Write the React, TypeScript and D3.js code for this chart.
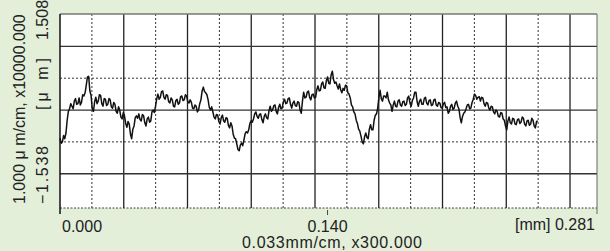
import React from 'react';
import * as d3 from 'd3';

// profile heights in μm, sampled every 0.000625 mm from 0.000 mm
const profileStepMm = 0.000625;
const profileUm = [
  -0.44, -0.52, -0.50, -0.40, -0.45, -0.36, -0.16, -0.02, 0.02, 0.10,
  0.06, 0.02, 0.14, 0.18, 0.09, 0.10, 0.19, 0.08, 0.12, 0.24,
  0.22, 0.27, 0.39, 0.52, 0.53, 0.30, 0.23, 0.02, -0.02, 0.13,
  0.20, 0.10, 0.14, 0.24, 0.23, 0.10, 0.06, 0.18, 0.17, 0.07,
  0.09, 0.18, 0.16, 0.05, 0.03, 0.12, 0.09, -0.02, -0.05, 0.05,
  0.00, -0.11, -0.14, -0.04, -0.09, -0.21, -0.27, -0.18, -0.22, -0.38,
  -0.45, -0.30, -0.25, -0.12, -0.09, -0.13, -0.06, -0.15, -0.17, -0.07,
  -0.09, -0.20, -0.25, -0.14, -0.11, -0.19, -0.17, -0.03, 0.00, -0.04,
  0.06, 0.18, 0.25, 0.17, 0.20, 0.29, 0.30, 0.20, 0.17, 0.24,
  0.23, 0.13, 0.11, 0.19, 0.16, 0.06, 0.05, 0.15, 0.17, 0.09,
  0.11, 0.21, 0.22, 0.15, 0.16, 0.24, 0.22, 0.13, 0.11, 0.16,
  0.12, 0.03, 0.02, 0.08, 0.06, -0.03, 0.00, 0.10, 0.16, 0.30,
  0.36, 0.29, 0.27, 0.24, 0.16, 0.04, 0.00, 0.05, -0.03, -0.11,
  -0.14, -0.07, -0.08, -0.18, -0.22, -0.12, -0.08, -0.17, -0.19, -0.12,
  -0.13, -0.24, -0.28, -0.20, -0.25, -0.38, -0.44, -0.45, -0.53, -0.62,
  -0.64, -0.55, -0.52, -0.56, -0.47, -0.37, -0.34, -0.36, -0.31, -0.21,
  -0.17, -0.19, -0.14, -0.06, -0.03, -0.10, -0.13, -0.07, -0.06, -0.15,
  -0.20, -0.10, -0.06, -0.12, -0.14, -0.01, 0.06, -0.02, 0.00, 0.07,
  0.08, -0.02, -0.06, 0.04, 0.09, 0.02, 0.03, 0.13, 0.17, 0.10,
  0.11, 0.18, 0.19, 0.09, 0.03, 0.11, 0.14, 0.07, 0.06, 0.13,
  0.12, 0.00, -0.05, 0.14, 0.28, 0.19, 0.20, 0.28, 0.30, 0.20,
  0.16, 0.24, 0.25, 0.19, 0.20, 0.32, 0.38, 0.30, 0.31, 0.41,
  0.44, 0.35, 0.34, 0.46, 0.52, 0.42, 0.41, 0.55, 0.61, 0.48,
  0.42, 0.44, 0.38, 0.33, 0.41, 0.32, 0.27, 0.34, 0.31, 0.39,
  0.38, 0.27, 0.25, 0.19, 0.08, 0.05, -0.03, -0.06, -0.16, -0.21,
  -0.30, -0.33, -0.41, -0.50, -0.53, -0.42, -0.36, -0.43, -0.45, -0.30,
  -0.23, -0.31, -0.31, -0.16, -0.08, -0.06, 0.03, 0.20, 0.31, 0.18,
  0.14, 0.22, 0.22, 0.19, 0.28, 0.16, 0.11, 0.08, -0.02, 0.08,
  0.14, 0.06, 0.05, 0.14, 0.16, 0.08, 0.06, 0.13, 0.14, 0.07,
  0.09, 0.19, 0.22, 0.11, 0.06, 0.15, 0.19, 0.28, 0.28, 0.13,
  0.06, 0.14, 0.17, 0.09, 0.09, 0.18, 0.20, 0.11, 0.08, 0.15,
  0.16, 0.07, 0.08, 0.16, 0.17, 0.08, 0.06, 0.12, 0.11, 0.04,
  0.03, 0.10, 0.12, 0.04, 0.05, -0.05, -0.02, 0.06, 0.09, 0.01,
  0.03, 0.11, 0.14, 0.06, 0.02, -0.12, -0.20, -0.10, -0.05, -0.03,
  0.02, 0.08, 0.09, 0.02, 0.03, 0.12, 0.17, 0.25, 0.23, 0.17,
  0.20, 0.21, 0.14, 0.20, 0.19, 0.10, 0.06, 0.12, 0.11, 0.03,
  0.00, 0.06, 0.05, -0.03, -0.06, 0.00, -0.02, -0.10, -0.11, -0.04,
  -0.05, -0.14, -0.16, -0.25, -0.31, -0.17, -0.11, -0.20, -0.22, -0.13,
  -0.14, -0.22, -0.23, -0.15, -0.14, -0.21, -0.19, -0.11, -0.13, -0.22,
  -0.25, -0.17, -0.16, -0.24, -0.22, -0.13, -0.16, -0.25, -0.28, -0.18,
  -0.17,
];

const xTicks = [0.0, 0.14, 0.281];
const xMax = 0.281;
const yMin = -1.538;
const yMax = 1.508;
const gridStepMm = 0.03336; // 1 cm on the chart at 0.033mm/cm
const yMajor = [-1, 0, 1];
const yMinor = [-0.5, 0.5];

const W = 610;
const H = 251;
const left = 60;
const right = 597;
const top = 14;
const bottom = 208;

export default function App() {
  const x = d3.scaleLinear().domain([0, xMax]).range([left, right]);
  const y = d3.scaleLinear().domain([yMin, yMax]).range([bottom, top]);

  const majorX = d3.range(1, 9).map((k) => k * gridStepMm);
  const minorX = d3.range(0.5, 8, 1).map((k) => k * gridStepMm);

  const line = d3
    .line<number>()
    .x((_, i) => x(i * profileStepMm))
    .y((d) => y(d));

  const font = '"Liberation Sans", Arial, sans-serif';

  return (
    <svg
      width={W}
      height={H}
      style={{ position: 'absolute', left: 0, top: 0, display: 'block' }}
      fontFamily={font}
    >
      <rect width={W} height={H} fill="#e3efd9" />
      <rect x={left} y={top} width={right - left} height={bottom - top} fill="#ffffff" />

      {minorX.map((v) => (
        <line key={'mx' + v} x1={x(v)} x2={x(v)} y1={top} y2={bottom}
          stroke="#333" strokeWidth={1} strokeDasharray="2,2" />
      ))}
      {yMinor.map((v) => (
        <line key={'my' + v} x1={left} x2={right} y1={y(v)} y2={y(v)}
          stroke="#333" strokeWidth={1} strokeDasharray="2,2" />
      ))}
      <line x1={left} x2={right} y1={bottom} y2={bottom}
        stroke="#444" strokeWidth={1} strokeDasharray="2,1.5" />
      {majorX.map((v) => (
        <line key={'Mx' + v} x1={x(v)} x2={x(v)} y1={top} y2={bottom}
          stroke="#222" strokeWidth={1.3} />
      ))}
      {yMajor.map((v) => (
        <line key={'My' + v} x1={left} x2={right} y1={y(v)} y2={y(v)}
          stroke="#333" strokeWidth={1.3} />
      ))}
      <line x1={left} x2={right} y1={top} y2={top} stroke="#777" strokeWidth={1.5} />
      <line x1={right} x2={right} y1={top} y2={bottom + 6} stroke="#666" strokeWidth={1} />
      <line x1={left} x2={left} y1={top} y2={bottom + 6} stroke="#111" strokeWidth={1.5} />
      <line x1={x(0.14)} x2={x(0.14)} y1={bottom + 2} y2={bottom + 7} stroke="#444" strokeWidth={1} />

      <path d={line(profileUm) || ''} fill="none" stroke="#111" strokeWidth={1.5} strokeLinejoin="round" />

      {/* x labels */}
      <g fontSize={16} fill="#222">
        <text x={x(xTicks[0]) + 2} y={232}>{xTicks[0].toFixed(3)}</text>
        <text x={x(xTicks[1])} y={232} textAnchor="middle">{xTicks[1].toFixed(3)}</text>
        <text x={x(xTicks[2]) - 2} y={230} textAnchor="end">[mm] {xTicks[2].toFixed(3)}</text>
        <text x={332} y={248} textAnchor="middle" textLength={180} lengthAdjust="spacing">
          0.033mm/cm, x300.000
        </text>
      </g>

      {/* y labels */}
      <g fontSize={16} fill="#222">
        <text transform="translate(25,204) rotate(-90)">1.000 μ m/cm, x10000.000</text>
        <text transform="translate(48,40) rotate(-90)">{yMax.toFixed(3)}</text>
        <text transform="translate(48,110) rotate(-90)" textLength={52} lengthAdjust="spacing">[μ m]</text>
        <text transform="translate(48,204) rotate(-90)" textLength={58} lengthAdjust="spacing">
          −{Math.abs(yMin).toFixed(3)}
        </text>
      </g>
    </svg>
  );
}
